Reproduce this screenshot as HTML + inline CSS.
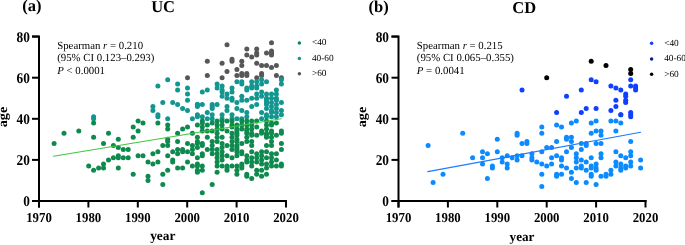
<!DOCTYPE html>
<html><head><meta charset="utf-8"><style>
html,body{margin:0;padding:0;background:#fff;width:685px;height:245px;overflow:hidden}
svg{display:block;will-change:transform}
text{font-family:"Liberation Serif",serif;text-rendering:geometricPrecision}
.tk{font-size:13.6px;font-weight:bold}
.ti{font-size:16.5px;font-weight:bold}
.an{font-size:10.8px}
.lg{font-size:9.3px;fill:#000}
</style></head><body>
<svg width="685" height="245" viewBox="0 0 685 245">
<text x="22.2" y="11" class="ti">(a)</text>
<text x="163.1" y="11.8" text-anchor="middle" class="ti">UC</text>
<text x="368.5" y="12" class="ti">(b)</text>
<text x="524.2" y="13" text-anchor="middle" class="ti">CD</text>
<path d="M32.0 36.6H39.0V207.5" fill="none" stroke="#000" stroke-width="2"/>
<path d="M32.0 36.6H39.0" stroke="#000" stroke-width="2"/>
<path d="M32.0 77.7H39.0" stroke="#000" stroke-width="2"/>
<path d="M32.0 118.8H39.0" stroke="#000" stroke-width="2"/>
<path d="M32.0 159.9H39.0" stroke="#000" stroke-width="2"/>
<path d="M32.0 201.0H39.0" stroke="#000" stroke-width="2"/>
<path d="M32.0 201.1H287.0" stroke="#000" stroke-width="2"/>
<path d="M39.0 200V207.5" stroke="#000" stroke-width="2"/>
<path d="M88.4 200V207.5" stroke="#000" stroke-width="2"/>
<path d="M137.8 200V207.5" stroke="#000" stroke-width="2"/>
<path d="M187.2 200V207.5" stroke="#000" stroke-width="2"/>
<path d="M236.6 200V207.5" stroke="#000" stroke-width="2"/>
<path d="M286.0 200V207.5" stroke="#000" stroke-width="2"/>
<path d="M391.5 36.6H398.5V207.5" fill="none" stroke="#000" stroke-width="2"/>
<path d="M391.5 36.6H398.5" stroke="#000" stroke-width="2"/>
<path d="M391.5 77.7H398.5" stroke="#000" stroke-width="2"/>
<path d="M391.5 118.8H398.5" stroke="#000" stroke-width="2"/>
<path d="M391.5 159.9H398.5" stroke="#000" stroke-width="2"/>
<path d="M391.5 201.0H398.5" stroke="#000" stroke-width="2"/>
<path d="M391.5 201.1H646.5" stroke="#000" stroke-width="2"/>
<path d="M398.5 200V207.5" stroke="#000" stroke-width="2"/>
<path d="M447.9 200V207.5" stroke="#000" stroke-width="2"/>
<path d="M497.3 200V207.5" stroke="#000" stroke-width="2"/>
<path d="M546.7 200V207.5" stroke="#000" stroke-width="2"/>
<path d="M596.1 200V207.5" stroke="#000" stroke-width="2"/>
<path d="M645.5 200V207.5" stroke="#000" stroke-width="2"/>
<text transform="translate(29.8,41.5) scale(0.9,1)" text-anchor="end" class="tk" style="font-size:14.8px">80</text>
<text transform="translate(29.8,82.6) scale(0.9,1)" text-anchor="end" class="tk" style="font-size:14.8px">60</text>
<text transform="translate(29.8,123.7) scale(0.9,1)" text-anchor="end" class="tk" style="font-size:14.8px">40</text>
<text transform="translate(29.8,164.8) scale(0.9,1)" text-anchor="end" class="tk" style="font-size:14.8px">20</text>
<text transform="translate(29.8,205.9) scale(0.9,1)" text-anchor="end" class="tk" style="font-size:14.8px">0</text>
<text transform="translate(389,41.5) scale(0.9,1)" text-anchor="end" class="tk" style="font-size:14.8px">80</text>
<text transform="translate(389,82.6) scale(0.9,1)" text-anchor="end" class="tk" style="font-size:14.8px">60</text>
<text transform="translate(389,123.7) scale(0.9,1)" text-anchor="end" class="tk" style="font-size:14.8px">40</text>
<text transform="translate(389,164.8) scale(0.9,1)" text-anchor="end" class="tk" style="font-size:14.8px">20</text>
<text transform="translate(389,205.9) scale(0.9,1)" text-anchor="end" class="tk" style="font-size:14.8px">0</text>
<text transform="translate(39.0,222.2) scale(0.94,1)" text-anchor="middle" class="tk">1970</text>
<text transform="translate(88.4,222.2) scale(0.94,1)" text-anchor="middle" class="tk">1980</text>
<text transform="translate(137.8,222.2) scale(0.94,1)" text-anchor="middle" class="tk">1990</text>
<text transform="translate(187.2,222.2) scale(0.94,1)" text-anchor="middle" class="tk">2000</text>
<text transform="translate(236.6,222.2) scale(0.94,1)" text-anchor="middle" class="tk">2010</text>
<text transform="translate(286.0,222.2) scale(0.94,1)" text-anchor="middle" class="tk">2020</text>
<text transform="translate(398.5,222.2) scale(0.94,1)" text-anchor="middle" class="tk">1970</text>
<text transform="translate(447.9,222.2) scale(0.94,1)" text-anchor="middle" class="tk">1980</text>
<text transform="translate(497.3,222.2) scale(0.94,1)" text-anchor="middle" class="tk">1990</text>
<text transform="translate(546.7,222.2) scale(0.94,1)" text-anchor="middle" class="tk">2000</text>
<text transform="translate(596.1,222.2) scale(0.94,1)" text-anchor="middle" class="tk">2010</text>
<text transform="translate(645.5,222.2) scale(0.94,1)" text-anchor="middle" class="tk">2020</text>
<text x="162.8" y="240" text-anchor="middle" class="ti" style="font-size:13.4px">year</text>
<text x="522" y="241.2" text-anchor="middle" class="ti" style="font-size:13.2px">year</text>
<text transform="translate(6.7,117) rotate(-90) scale(1.07,1)" text-anchor="middle" class="ti" style="font-size:13.2px">age</text>
<text transform="translate(366,117) rotate(-90) scale(1.07,1)" text-anchor="middle" class="ti" style="font-size:13.2px">age</text>
<g class="an">
<text x="57.2" y="48.8">Spearman <tspan font-style="italic">r</tspan> = 0.210</text>
<text x="57.2" y="61.3">(95% CI 0.123–0.293)</text>
<text x="57.2" y="73.8"><tspan font-style="italic">P</tspan> &lt; 0.0001</text>
<text x="416.8" y="48.8">Spearman <tspan font-style="italic">r</tspan> = 0.215</text>
<text x="416.8" y="61.3">(95% CI 0.065–0.355)</text>
<text x="416.8" y="73.8"><tspan font-style="italic">P</tspan> = 0.0041</text>
</g>
<circle cx="299.4" cy="42.9" r="1.75" fill="#0f8a4e"/>
<circle cx="299.4" cy="58.4" r="1.75" fill="#12968f"/>
<circle cx="299.4" cy="73.7" r="1.75" fill="#575757"/>
<text x="311.9" y="45.3" class="lg">&lt;40</text>
<text x="311.9" y="60.8" class="lg">40-60</text>
<text x="311.9" y="76.1" class="lg">&gt;60</text>
<circle cx="651.6" cy="43.2" r="1.75" fill="#1a3cff"/>
<circle cx="651.6" cy="58.9" r="1.75" fill="#101c90"/>
<circle cx="651.6" cy="74.2" r="1.75" fill="#000"/>
<text x="664.2" y="45.6" class="lg">&lt;40</text>
<text x="664.2" y="61.3" class="lg">40-60</text>
<text x="664.2" y="76.6" class="lg">&gt;60</text>
<g>
<circle cx="93.6" cy="116.7" r="2.5" fill="#12968f"/>
<circle cx="93.6" cy="118.8" r="2.5" fill="#12968f"/>
<circle cx="93.6" cy="122.9" r="2.5" fill="#0f8a4e"/>
<circle cx="93.6" cy="137.3" r="2.5" fill="#0f8a4e"/>
<circle cx="64.0" cy="133.2" r="2.5" fill="#0f8a4e"/>
<circle cx="78.8" cy="131.1" r="2.5" fill="#0f8a4e"/>
<circle cx="108.5" cy="133.2" r="2.5" fill="#0f8a4e"/>
<circle cx="54.1" cy="143.5" r="2.5" fill="#0f8a4e"/>
<circle cx="103.5" cy="143.5" r="2.5" fill="#0f8a4e"/>
<circle cx="118.3" cy="139.3" r="2.5" fill="#0f8a4e"/>
<circle cx="118.3" cy="147.6" r="2.5" fill="#0f8a4e"/>
<circle cx="113.4" cy="145.5" r="2.5" fill="#0f8a4e"/>
<circle cx="88.7" cy="166.1" r="2.5" fill="#0f8a4e"/>
<circle cx="93.6" cy="170.2" r="2.5" fill="#0f8a4e"/>
<circle cx="98.6" cy="168.1" r="2.5" fill="#0f8a4e"/>
<circle cx="103.5" cy="164.0" r="2.5" fill="#0f8a4e"/>
<circle cx="103.5" cy="168.1" r="2.5" fill="#0f8a4e"/>
<circle cx="108.5" cy="159.9" r="2.5" fill="#0f8a4e"/>
<circle cx="113.4" cy="157.8" r="2.5" fill="#0f8a4e"/>
<circle cx="118.3" cy="155.8" r="2.5" fill="#0f8a4e"/>
<circle cx="118.3" cy="168.1" r="2.5" fill="#0f8a4e"/>
<circle cx="133.2" cy="174.3" r="2.5" fill="#0f8a4e"/>
<circle cx="162.8" cy="102.4" r="2.5" fill="#12968f"/>
<circle cx="172.7" cy="102.4" r="2.5" fill="#12968f"/>
<circle cx="177.6" cy="104.4" r="2.5" fill="#12968f"/>
<circle cx="182.6" cy="108.5" r="2.5" fill="#12968f"/>
<circle cx="187.5" cy="110.6" r="2.5" fill="#12968f"/>
<circle cx="187.5" cy="100.3" r="2.5" fill="#12968f"/>
<circle cx="152.9" cy="106.5" r="2.5" fill="#12968f"/>
<circle cx="152.9" cy="110.6" r="2.5" fill="#12968f"/>
<circle cx="157.9" cy="114.7" r="2.5" fill="#12968f"/>
<circle cx="157.9" cy="116.7" r="2.5" fill="#12968f"/>
<circle cx="167.7" cy="118.8" r="2.5" fill="#12968f"/>
<circle cx="138.1" cy="120.9" r="2.5" fill="#0f8a4e"/>
<circle cx="143.0" cy="122.9" r="2.5" fill="#0f8a4e"/>
<circle cx="157.9" cy="122.9" r="2.5" fill="#0f8a4e"/>
<circle cx="133.2" cy="127.0" r="2.5" fill="#0f8a4e"/>
<circle cx="138.1" cy="131.1" r="2.5" fill="#0f8a4e"/>
<circle cx="167.7" cy="125.0" r="2.5" fill="#0f8a4e"/>
<circle cx="167.7" cy="129.1" r="2.5" fill="#0f8a4e"/>
<circle cx="133.2" cy="137.3" r="2.5" fill="#0f8a4e"/>
<circle cx="177.6" cy="133.2" r="2.5" fill="#0f8a4e"/>
<circle cx="182.6" cy="129.1" r="2.5" fill="#0f8a4e"/>
<circle cx="187.5" cy="127.0" r="2.5" fill="#0f8a4e"/>
<circle cx="167.7" cy="139.3" r="2.5" fill="#0f8a4e"/>
<circle cx="123.3" cy="149.6" r="2.5" fill="#0f8a4e"/>
<circle cx="128.2" cy="149.6" r="2.5" fill="#0f8a4e"/>
<circle cx="118.3" cy="157.8" r="2.5" fill="#0f8a4e"/>
<circle cx="123.3" cy="157.8" r="2.5" fill="#0f8a4e"/>
<circle cx="128.2" cy="157.8" r="2.5" fill="#0f8a4e"/>
<circle cx="138.1" cy="155.8" r="2.5" fill="#0f8a4e"/>
<circle cx="143.0" cy="155.8" r="2.5" fill="#0f8a4e"/>
<circle cx="148.0" cy="162.0" r="2.5" fill="#0f8a4e"/>
<circle cx="152.9" cy="153.7" r="2.5" fill="#0f8a4e"/>
<circle cx="157.9" cy="151.7" r="2.5" fill="#0f8a4e"/>
<circle cx="152.9" cy="164.0" r="2.5" fill="#0f8a4e"/>
<circle cx="157.9" cy="162.0" r="2.5" fill="#0f8a4e"/>
<circle cx="162.8" cy="145.5" r="2.5" fill="#0f8a4e"/>
<circle cx="167.7" cy="141.4" r="2.5" fill="#0f8a4e"/>
<circle cx="167.7" cy="145.5" r="2.5" fill="#0f8a4e"/>
<circle cx="167.7" cy="155.8" r="2.5" fill="#0f8a4e"/>
<circle cx="172.7" cy="151.7" r="2.5" fill="#0f8a4e"/>
<circle cx="172.7" cy="159.9" r="2.5" fill="#0f8a4e"/>
<circle cx="172.7" cy="162.0" r="2.5" fill="#0f8a4e"/>
<circle cx="177.6" cy="141.4" r="2.5" fill="#0f8a4e"/>
<circle cx="177.6" cy="149.6" r="2.5" fill="#0f8a4e"/>
<circle cx="177.6" cy="153.7" r="2.5" fill="#0f8a4e"/>
<circle cx="182.6" cy="149.6" r="2.5" fill="#0f8a4e"/>
<circle cx="182.6" cy="151.7" r="2.5" fill="#0f8a4e"/>
<circle cx="187.5" cy="143.5" r="2.5" fill="#0f8a4e"/>
<circle cx="187.5" cy="151.7" r="2.5" fill="#0f8a4e"/>
<circle cx="187.5" cy="162.0" r="2.5" fill="#0f8a4e"/>
<circle cx="148.0" cy="176.3" r="2.5" fill="#0f8a4e"/>
<circle cx="162.8" cy="174.3" r="2.5" fill="#0f8a4e"/>
<circle cx="167.7" cy="170.2" r="2.5" fill="#0f8a4e"/>
<circle cx="177.6" cy="168.1" r="2.5" fill="#0f8a4e"/>
<circle cx="182.6" cy="168.1" r="2.5" fill="#0f8a4e"/>
<circle cx="148.0" cy="180.4" r="2.5" fill="#0f8a4e"/>
<circle cx="162.8" cy="184.6" r="2.5" fill="#0f8a4e"/>
<circle cx="207.3" cy="61.3" r="2.5" fill="#575757"/>
<circle cx="222.1" cy="63.3" r="2.5" fill="#575757"/>
<circle cx="227.0" cy="71.5" r="2.5" fill="#575757"/>
<circle cx="187.5" cy="77.7" r="2.5" fill="#575757"/>
<circle cx="207.3" cy="75.6" r="2.5" fill="#575757"/>
<circle cx="222.1" cy="77.7" r="2.5" fill="#575757"/>
<circle cx="157.9" cy="85.9" r="2.5" fill="#12968f"/>
<circle cx="167.7" cy="79.8" r="2.5" fill="#12968f"/>
<circle cx="177.6" cy="83.9" r="2.5" fill="#12968f"/>
<circle cx="177.6" cy="90.0" r="2.5" fill="#12968f"/>
<circle cx="187.5" cy="88.0" r="2.5" fill="#12968f"/>
<circle cx="187.5" cy="94.1" r="2.5" fill="#12968f"/>
<circle cx="202.3" cy="92.1" r="2.5" fill="#12968f"/>
<circle cx="207.3" cy="90.0" r="2.5" fill="#12968f"/>
<circle cx="217.1" cy="83.9" r="2.5" fill="#12968f"/>
<circle cx="217.1" cy="88.0" r="2.5" fill="#12968f"/>
<circle cx="222.1" cy="85.9" r="2.5" fill="#12968f"/>
<circle cx="222.1" cy="90.0" r="2.5" fill="#12968f"/>
<circle cx="222.1" cy="92.1" r="2.5" fill="#12968f"/>
<circle cx="222.1" cy="96.2" r="2.5" fill="#12968f"/>
<circle cx="227.0" cy="94.1" r="2.5" fill="#12968f"/>
<circle cx="227.0" cy="44.8" r="2.5" fill="#575757"/>
<circle cx="246.8" cy="48.9" r="2.5" fill="#575757"/>
<circle cx="256.7" cy="48.9" r="2.5" fill="#575757"/>
<circle cx="256.7" cy="53.0" r="2.5" fill="#575757"/>
<circle cx="256.7" cy="55.1" r="2.5" fill="#575757"/>
<circle cx="246.8" cy="55.1" r="2.5" fill="#575757"/>
<circle cx="251.7" cy="57.1" r="2.5" fill="#575757"/>
<circle cx="232.0" cy="59.2" r="2.5" fill="#575757"/>
<circle cx="232.0" cy="61.3" r="2.5" fill="#575757"/>
<circle cx="241.8" cy="61.3" r="2.5" fill="#575757"/>
<circle cx="241.8" cy="65.4" r="2.5" fill="#575757"/>
<circle cx="256.7" cy="63.3" r="2.5" fill="#575757"/>
<circle cx="236.9" cy="69.5" r="2.5" fill="#575757"/>
<circle cx="236.9" cy="75.6" r="2.5" fill="#575757"/>
<circle cx="241.8" cy="73.6" r="2.5" fill="#575757"/>
<circle cx="246.8" cy="73.6" r="2.5" fill="#575757"/>
<circle cx="246.8" cy="75.6" r="2.5" fill="#575757"/>
<circle cx="271.5" cy="42.8" r="2.5" fill="#575757"/>
<circle cx="266.5" cy="53.0" r="2.5" fill="#575757"/>
<circle cx="271.5" cy="51.0" r="2.5" fill="#575757"/>
<circle cx="271.5" cy="53.0" r="2.5" fill="#575757"/>
<circle cx="271.5" cy="55.1" r="2.5" fill="#575757"/>
<circle cx="261.6" cy="65.4" r="2.5" fill="#575757"/>
<circle cx="266.5" cy="65.4" r="2.5" fill="#575757"/>
<circle cx="271.5" cy="67.4" r="2.5" fill="#575757"/>
<circle cx="276.4" cy="65.4" r="2.5" fill="#575757"/>
<circle cx="261.6" cy="73.6" r="2.5" fill="#575757"/>
<circle cx="276.4" cy="75.6" r="2.5" fill="#575757"/>
<circle cx="227.0" cy="98.2" r="2.5" fill="#12968f"/>
<circle cx="232.0" cy="88.0" r="2.5" fill="#12968f"/>
<circle cx="232.0" cy="92.1" r="2.5" fill="#12968f"/>
<circle cx="232.0" cy="98.2" r="2.5" fill="#12968f"/>
<circle cx="232.0" cy="100.3" r="2.5" fill="#12968f"/>
<circle cx="236.9" cy="81.8" r="2.5" fill="#12968f"/>
<circle cx="236.9" cy="102.4" r="2.5" fill="#12968f"/>
<circle cx="197.4" cy="104.4" r="2.5" fill="#12968f"/>
<circle cx="202.3" cy="104.4" r="2.5" fill="#12968f"/>
<circle cx="212.2" cy="104.4" r="2.5" fill="#12968f"/>
<circle cx="217.1" cy="104.4" r="2.5" fill="#12968f"/>
<circle cx="241.8" cy="75.6" r="2.5" fill="#575757"/>
<circle cx="256.7" cy="77.7" r="2.5" fill="#575757"/>
<circle cx="261.6" cy="75.6" r="2.5" fill="#575757"/>
<circle cx="281.4" cy="77.7" r="2.5" fill="#575757"/>
<circle cx="241.8" cy="81.8" r="2.5" fill="#12968f"/>
<circle cx="241.8" cy="83.9" r="2.5" fill="#12968f"/>
<circle cx="246.8" cy="88.0" r="2.5" fill="#12968f"/>
<circle cx="246.8" cy="90.0" r="2.5" fill="#12968f"/>
<circle cx="251.7" cy="81.8" r="2.5" fill="#12968f"/>
<circle cx="251.7" cy="85.9" r="2.5" fill="#12968f"/>
<circle cx="251.7" cy="88.0" r="2.5" fill="#12968f"/>
<circle cx="256.7" cy="81.8" r="2.5" fill="#12968f"/>
<circle cx="256.7" cy="85.9" r="2.5" fill="#12968f"/>
<circle cx="256.7" cy="88.0" r="2.5" fill="#12968f"/>
<circle cx="261.6" cy="79.8" r="2.5" fill="#12968f"/>
<circle cx="261.6" cy="83.9" r="2.5" fill="#12968f"/>
<circle cx="266.5" cy="81.8" r="2.5" fill="#12968f"/>
<circle cx="281.4" cy="79.8" r="2.5" fill="#12968f"/>
<circle cx="281.4" cy="83.9" r="2.5" fill="#12968f"/>
<circle cx="241.8" cy="96.2" r="2.5" fill="#12968f"/>
<circle cx="241.8" cy="100.3" r="2.5" fill="#12968f"/>
<circle cx="246.8" cy="100.3" r="2.5" fill="#12968f"/>
<circle cx="251.7" cy="98.2" r="2.5" fill="#12968f"/>
<circle cx="256.7" cy="94.1" r="2.5" fill="#12968f"/>
<circle cx="256.7" cy="98.2" r="2.5" fill="#12968f"/>
<circle cx="261.6" cy="92.1" r="2.5" fill="#12968f"/>
<circle cx="261.6" cy="96.2" r="2.5" fill="#12968f"/>
<circle cx="266.5" cy="94.1" r="2.5" fill="#12968f"/>
<circle cx="266.5" cy="98.2" r="2.5" fill="#12968f"/>
<circle cx="266.5" cy="100.3" r="2.5" fill="#12968f"/>
<circle cx="266.5" cy="102.4" r="2.5" fill="#12968f"/>
<circle cx="271.5" cy="94.1" r="2.5" fill="#12968f"/>
<circle cx="271.5" cy="98.2" r="2.5" fill="#12968f"/>
<circle cx="271.5" cy="102.4" r="2.5" fill="#12968f"/>
<circle cx="276.4" cy="90.0" r="2.5" fill="#12968f"/>
<circle cx="276.4" cy="94.1" r="2.5" fill="#12968f"/>
<circle cx="276.4" cy="98.2" r="2.5" fill="#12968f"/>
<circle cx="281.4" cy="102.4" r="2.5" fill="#12968f"/>
<circle cx="197.4" cy="104.4" r="2.5" fill="#12968f"/>
<circle cx="197.4" cy="106.5" r="2.5" fill="#12968f"/>
<circle cx="207.3" cy="112.6" r="2.5" fill="#12968f"/>
<circle cx="212.2" cy="106.5" r="2.5" fill="#12968f"/>
<circle cx="212.2" cy="108.5" r="2.5" fill="#12968f"/>
<circle cx="227.0" cy="106.5" r="2.5" fill="#12968f"/>
<circle cx="227.0" cy="110.6" r="2.5" fill="#12968f"/>
<circle cx="236.9" cy="108.5" r="2.5" fill="#12968f"/>
<circle cx="197.4" cy="114.7" r="2.5" fill="#12968f"/>
<circle cx="197.4" cy="116.7" r="2.5" fill="#12968f"/>
<circle cx="192.4" cy="118.8" r="2.5" fill="#12968f"/>
<circle cx="202.3" cy="116.7" r="2.5" fill="#12968f"/>
<circle cx="207.3" cy="118.8" r="2.5" fill="#12968f"/>
<circle cx="212.2" cy="114.7" r="2.5" fill="#12968f"/>
<circle cx="212.2" cy="118.8" r="2.5" fill="#12968f"/>
<circle cx="222.1" cy="114.7" r="2.5" fill="#12968f"/>
<circle cx="222.1" cy="118.8" r="2.5" fill="#12968f"/>
<circle cx="232.0" cy="114.7" r="2.5" fill="#12968f"/>
<circle cx="232.0" cy="118.8" r="2.5" fill="#12968f"/>
<circle cx="236.9" cy="118.8" r="2.5" fill="#12968f"/>
<circle cx="202.3" cy="120.9" r="2.5" fill="#0f8a4e"/>
<circle cx="202.3" cy="122.9" r="2.5" fill="#0f8a4e"/>
<circle cx="197.4" cy="125.0" r="2.5" fill="#0f8a4e"/>
<circle cx="202.3" cy="127.0" r="2.5" fill="#0f8a4e"/>
<circle cx="202.3" cy="131.1" r="2.5" fill="#0f8a4e"/>
<circle cx="207.3" cy="125.0" r="2.5" fill="#0f8a4e"/>
<circle cx="207.3" cy="131.1" r="2.5" fill="#0f8a4e"/>
<circle cx="212.2" cy="122.9" r="2.5" fill="#0f8a4e"/>
<circle cx="212.2" cy="131.1" r="2.5" fill="#0f8a4e"/>
<circle cx="217.1" cy="120.9" r="2.5" fill="#0f8a4e"/>
<circle cx="217.1" cy="125.0" r="2.5" fill="#0f8a4e"/>
<circle cx="217.1" cy="129.1" r="2.5" fill="#0f8a4e"/>
<circle cx="222.1" cy="120.9" r="2.5" fill="#0f8a4e"/>
<circle cx="222.1" cy="125.0" r="2.5" fill="#0f8a4e"/>
<circle cx="222.1" cy="129.1" r="2.5" fill="#0f8a4e"/>
<circle cx="227.0" cy="120.9" r="2.5" fill="#0f8a4e"/>
<circle cx="227.0" cy="131.1" r="2.5" fill="#0f8a4e"/>
<circle cx="232.0" cy="120.9" r="2.5" fill="#0f8a4e"/>
<circle cx="232.0" cy="125.0" r="2.5" fill="#0f8a4e"/>
<circle cx="232.0" cy="127.0" r="2.5" fill="#0f8a4e"/>
<circle cx="236.9" cy="125.0" r="2.5" fill="#0f8a4e"/>
<circle cx="236.9" cy="129.1" r="2.5" fill="#0f8a4e"/>
<circle cx="192.4" cy="133.2" r="2.5" fill="#0f8a4e"/>
<circle cx="232.0" cy="133.2" r="2.5" fill="#0f8a4e"/>
<circle cx="236.9" cy="133.2" r="2.5" fill="#0f8a4e"/>
<circle cx="241.8" cy="110.6" r="2.5" fill="#12968f"/>
<circle cx="246.8" cy="112.6" r="2.5" fill="#12968f"/>
<circle cx="246.8" cy="116.7" r="2.5" fill="#12968f"/>
<circle cx="251.7" cy="106.5" r="2.5" fill="#12968f"/>
<circle cx="256.7" cy="104.4" r="2.5" fill="#12968f"/>
<circle cx="261.6" cy="112.6" r="2.5" fill="#12968f"/>
<circle cx="266.5" cy="104.4" r="2.5" fill="#12968f"/>
<circle cx="266.5" cy="108.5" r="2.5" fill="#12968f"/>
<circle cx="266.5" cy="114.7" r="2.5" fill="#12968f"/>
<circle cx="266.5" cy="116.7" r="2.5" fill="#12968f"/>
<circle cx="271.5" cy="106.5" r="2.5" fill="#12968f"/>
<circle cx="271.5" cy="110.6" r="2.5" fill="#12968f"/>
<circle cx="271.5" cy="112.6" r="2.5" fill="#12968f"/>
<circle cx="271.5" cy="116.7" r="2.5" fill="#12968f"/>
<circle cx="276.4" cy="100.3" r="2.5" fill="#12968f"/>
<circle cx="276.4" cy="104.4" r="2.5" fill="#12968f"/>
<circle cx="276.4" cy="108.5" r="2.5" fill="#12968f"/>
<circle cx="276.4" cy="112.6" r="2.5" fill="#12968f"/>
<circle cx="276.4" cy="116.7" r="2.5" fill="#12968f"/>
<circle cx="281.4" cy="110.6" r="2.5" fill="#12968f"/>
<circle cx="281.4" cy="114.7" r="2.5" fill="#12968f"/>
<circle cx="241.8" cy="118.8" r="2.5" fill="#12968f"/>
<circle cx="261.6" cy="118.8" r="2.5" fill="#12968f"/>
<circle cx="241.8" cy="120.9" r="2.5" fill="#0f8a4e"/>
<circle cx="241.8" cy="125.0" r="2.5" fill="#0f8a4e"/>
<circle cx="241.8" cy="129.1" r="2.5" fill="#0f8a4e"/>
<circle cx="246.8" cy="120.9" r="2.5" fill="#0f8a4e"/>
<circle cx="246.8" cy="125.0" r="2.5" fill="#0f8a4e"/>
<circle cx="246.8" cy="129.1" r="2.5" fill="#0f8a4e"/>
<circle cx="251.7" cy="120.9" r="2.5" fill="#0f8a4e"/>
<circle cx="251.7" cy="125.0" r="2.5" fill="#0f8a4e"/>
<circle cx="251.7" cy="129.1" r="2.5" fill="#0f8a4e"/>
<circle cx="256.7" cy="120.9" r="2.5" fill="#0f8a4e"/>
<circle cx="256.7" cy="127.0" r="2.5" fill="#0f8a4e"/>
<circle cx="266.5" cy="120.9" r="2.5" fill="#0f8a4e"/>
<circle cx="266.5" cy="125.0" r="2.5" fill="#0f8a4e"/>
<circle cx="266.5" cy="129.1" r="2.5" fill="#0f8a4e"/>
<circle cx="266.5" cy="133.2" r="2.5" fill="#0f8a4e"/>
<circle cx="271.5" cy="122.9" r="2.5" fill="#0f8a4e"/>
<circle cx="271.5" cy="125.0" r="2.5" fill="#0f8a4e"/>
<circle cx="276.4" cy="122.9" r="2.5" fill="#0f8a4e"/>
<circle cx="236.9" cy="131.1" r="2.5" fill="#0f8a4e"/>
<circle cx="246.8" cy="131.1" r="2.5" fill="#0f8a4e"/>
<circle cx="261.6" cy="131.1" r="2.5" fill="#0f8a4e"/>
<circle cx="271.5" cy="131.1" r="2.5" fill="#0f8a4e"/>
<circle cx="281.4" cy="133.2" r="2.5" fill="#0f8a4e"/>
<circle cx="207.3" cy="137.3" r="2.5" fill="#0f8a4e"/>
<circle cx="197.4" cy="137.3" r="2.5" fill="#0f8a4e"/>
<circle cx="197.4" cy="141.4" r="2.5" fill="#0f8a4e"/>
<circle cx="197.4" cy="143.5" r="2.5" fill="#0f8a4e"/>
<circle cx="202.3" cy="143.5" r="2.5" fill="#0f8a4e"/>
<circle cx="202.3" cy="145.5" r="2.5" fill="#0f8a4e"/>
<circle cx="192.4" cy="145.5" r="2.5" fill="#0f8a4e"/>
<circle cx="192.4" cy="149.6" r="2.5" fill="#0f8a4e"/>
<circle cx="192.4" cy="153.7" r="2.5" fill="#0f8a4e"/>
<circle cx="197.4" cy="147.6" r="2.5" fill="#0f8a4e"/>
<circle cx="202.3" cy="153.7" r="2.5" fill="#0f8a4e"/>
<circle cx="202.3" cy="155.8" r="2.5" fill="#0f8a4e"/>
<circle cx="197.4" cy="157.8" r="2.5" fill="#0f8a4e"/>
<circle cx="207.3" cy="149.6" r="2.5" fill="#0f8a4e"/>
<circle cx="212.2" cy="141.4" r="2.5" fill="#0f8a4e"/>
<circle cx="212.2" cy="145.5" r="2.5" fill="#0f8a4e"/>
<circle cx="212.2" cy="149.6" r="2.5" fill="#0f8a4e"/>
<circle cx="212.2" cy="153.7" r="2.5" fill="#0f8a4e"/>
<circle cx="217.1" cy="133.2" r="2.5" fill="#0f8a4e"/>
<circle cx="217.1" cy="137.3" r="2.5" fill="#0f8a4e"/>
<circle cx="217.1" cy="141.4" r="2.5" fill="#0f8a4e"/>
<circle cx="217.1" cy="149.6" r="2.5" fill="#0f8a4e"/>
<circle cx="217.1" cy="153.7" r="2.5" fill="#0f8a4e"/>
<circle cx="217.1" cy="157.8" r="2.5" fill="#0f8a4e"/>
<circle cx="217.1" cy="162.0" r="2.5" fill="#0f8a4e"/>
<circle cx="217.1" cy="166.1" r="2.5" fill="#0f8a4e"/>
<circle cx="222.1" cy="137.3" r="2.5" fill="#0f8a4e"/>
<circle cx="222.1" cy="143.5" r="2.5" fill="#0f8a4e"/>
<circle cx="222.1" cy="147.6" r="2.5" fill="#0f8a4e"/>
<circle cx="222.1" cy="151.7" r="2.5" fill="#0f8a4e"/>
<circle cx="222.1" cy="155.8" r="2.5" fill="#0f8a4e"/>
<circle cx="222.1" cy="159.9" r="2.5" fill="#0f8a4e"/>
<circle cx="227.0" cy="145.5" r="2.5" fill="#0f8a4e"/>
<circle cx="227.0" cy="155.8" r="2.5" fill="#0f8a4e"/>
<circle cx="227.0" cy="166.1" r="2.5" fill="#0f8a4e"/>
<circle cx="232.0" cy="137.3" r="2.5" fill="#0f8a4e"/>
<circle cx="232.0" cy="141.4" r="2.5" fill="#0f8a4e"/>
<circle cx="232.0" cy="145.5" r="2.5" fill="#0f8a4e"/>
<circle cx="232.0" cy="149.6" r="2.5" fill="#0f8a4e"/>
<circle cx="232.0" cy="157.8" r="2.5" fill="#0f8a4e"/>
<circle cx="232.0" cy="166.1" r="2.5" fill="#0f8a4e"/>
<circle cx="236.9" cy="141.4" r="2.5" fill="#0f8a4e"/>
<circle cx="236.9" cy="145.5" r="2.5" fill="#0f8a4e"/>
<circle cx="236.9" cy="149.6" r="2.5" fill="#0f8a4e"/>
<circle cx="236.9" cy="155.8" r="2.5" fill="#0f8a4e"/>
<circle cx="197.4" cy="164.0" r="2.5" fill="#0f8a4e"/>
<circle cx="197.4" cy="166.1" r="2.5" fill="#0f8a4e"/>
<circle cx="192.4" cy="166.1" r="2.5" fill="#0f8a4e"/>
<circle cx="202.3" cy="166.1" r="2.5" fill="#0f8a4e"/>
<circle cx="236.9" cy="135.2" r="2.5" fill="#0f8a4e"/>
<circle cx="236.9" cy="139.3" r="2.5" fill="#0f8a4e"/>
<circle cx="236.9" cy="147.6" r="2.5" fill="#0f8a4e"/>
<circle cx="236.9" cy="151.7" r="2.5" fill="#0f8a4e"/>
<circle cx="241.8" cy="143.5" r="2.5" fill="#0f8a4e"/>
<circle cx="241.8" cy="151.7" r="2.5" fill="#0f8a4e"/>
<circle cx="241.8" cy="153.7" r="2.5" fill="#0f8a4e"/>
<circle cx="241.8" cy="164.0" r="2.5" fill="#0f8a4e"/>
<circle cx="246.8" cy="133.2" r="2.5" fill="#0f8a4e"/>
<circle cx="246.8" cy="137.3" r="2.5" fill="#0f8a4e"/>
<circle cx="246.8" cy="141.4" r="2.5" fill="#0f8a4e"/>
<circle cx="246.8" cy="155.8" r="2.5" fill="#0f8a4e"/>
<circle cx="246.8" cy="159.9" r="2.5" fill="#0f8a4e"/>
<circle cx="246.8" cy="162.0" r="2.5" fill="#0f8a4e"/>
<circle cx="251.7" cy="133.2" r="2.5" fill="#0f8a4e"/>
<circle cx="251.7" cy="135.2" r="2.5" fill="#0f8a4e"/>
<circle cx="251.7" cy="141.4" r="2.5" fill="#0f8a4e"/>
<circle cx="251.7" cy="145.5" r="2.5" fill="#0f8a4e"/>
<circle cx="251.7" cy="151.7" r="2.5" fill="#0f8a4e"/>
<circle cx="251.7" cy="157.8" r="2.5" fill="#0f8a4e"/>
<circle cx="251.7" cy="162.0" r="2.5" fill="#0f8a4e"/>
<circle cx="251.7" cy="166.1" r="2.5" fill="#0f8a4e"/>
<circle cx="256.7" cy="135.2" r="2.5" fill="#0f8a4e"/>
<circle cx="256.7" cy="153.7" r="2.5" fill="#0f8a4e"/>
<circle cx="256.7" cy="157.8" r="2.5" fill="#0f8a4e"/>
<circle cx="256.7" cy="162.0" r="2.5" fill="#0f8a4e"/>
<circle cx="261.6" cy="133.2" r="2.5" fill="#0f8a4e"/>
<circle cx="261.6" cy="151.7" r="2.5" fill="#0f8a4e"/>
<circle cx="261.6" cy="155.8" r="2.5" fill="#0f8a4e"/>
<circle cx="261.6" cy="159.9" r="2.5" fill="#0f8a4e"/>
<circle cx="261.6" cy="164.0" r="2.5" fill="#0f8a4e"/>
<circle cx="266.5" cy="135.2" r="2.5" fill="#0f8a4e"/>
<circle cx="266.5" cy="137.3" r="2.5" fill="#0f8a4e"/>
<circle cx="266.5" cy="145.5" r="2.5" fill="#0f8a4e"/>
<circle cx="266.5" cy="151.7" r="2.5" fill="#0f8a4e"/>
<circle cx="266.5" cy="157.8" r="2.5" fill="#0f8a4e"/>
<circle cx="266.5" cy="164.0" r="2.5" fill="#0f8a4e"/>
<circle cx="271.5" cy="133.2" r="2.5" fill="#0f8a4e"/>
<circle cx="271.5" cy="137.3" r="2.5" fill="#0f8a4e"/>
<circle cx="271.5" cy="141.4" r="2.5" fill="#0f8a4e"/>
<circle cx="271.5" cy="145.5" r="2.5" fill="#0f8a4e"/>
<circle cx="271.5" cy="153.7" r="2.5" fill="#0f8a4e"/>
<circle cx="271.5" cy="157.8" r="2.5" fill="#0f8a4e"/>
<circle cx="271.5" cy="162.0" r="2.5" fill="#0f8a4e"/>
<circle cx="276.4" cy="135.2" r="2.5" fill="#0f8a4e"/>
<circle cx="276.4" cy="153.7" r="2.5" fill="#0f8a4e"/>
<circle cx="276.4" cy="159.9" r="2.5" fill="#0f8a4e"/>
<circle cx="281.4" cy="131.1" r="2.5" fill="#0f8a4e"/>
<circle cx="281.4" cy="143.5" r="2.5" fill="#0f8a4e"/>
<circle cx="281.4" cy="149.6" r="2.5" fill="#0f8a4e"/>
<circle cx="281.4" cy="164.0" r="2.5" fill="#0f8a4e"/>
<circle cx="197.4" cy="170.2" r="2.5" fill="#0f8a4e"/>
<circle cx="197.4" cy="172.2" r="2.5" fill="#0f8a4e"/>
<circle cx="202.3" cy="170.2" r="2.5" fill="#0f8a4e"/>
<circle cx="217.1" cy="172.2" r="2.5" fill="#0f8a4e"/>
<circle cx="222.1" cy="166.1" r="2.5" fill="#0f8a4e"/>
<circle cx="227.0" cy="168.1" r="2.5" fill="#0f8a4e"/>
<circle cx="227.0" cy="170.2" r="2.5" fill="#0f8a4e"/>
<circle cx="236.9" cy="166.1" r="2.5" fill="#0f8a4e"/>
<circle cx="236.9" cy="170.2" r="2.5" fill="#0f8a4e"/>
<circle cx="236.9" cy="174.3" r="2.5" fill="#0f8a4e"/>
<circle cx="212.2" cy="184.6" r="2.5" fill="#0f8a4e"/>
<circle cx="202.3" cy="192.8" r="2.5" fill="#0f8a4e"/>
<circle cx="241.8" cy="166.1" r="2.5" fill="#0f8a4e"/>
<circle cx="241.8" cy="168.1" r="2.5" fill="#0f8a4e"/>
<circle cx="246.8" cy="174.3" r="2.5" fill="#0f8a4e"/>
<circle cx="246.8" cy="176.3" r="2.5" fill="#0f8a4e"/>
<circle cx="251.7" cy="178.4" r="2.5" fill="#0f8a4e"/>
<circle cx="256.7" cy="170.2" r="2.5" fill="#0f8a4e"/>
<circle cx="256.7" cy="174.3" r="2.5" fill="#0f8a4e"/>
<circle cx="261.6" cy="170.2" r="2.5" fill="#0f8a4e"/>
<circle cx="261.6" cy="176.3" r="2.5" fill="#0f8a4e"/>
<circle cx="266.5" cy="174.3" r="2.5" fill="#0f8a4e"/>
<circle cx="266.5" cy="168.1" r="2.5" fill="#0f8a4e"/>
<circle cx="271.5" cy="166.1" r="2.5" fill="#0f8a4e"/>
<circle cx="276.4" cy="166.1" r="2.5" fill="#0f8a4e"/>
<circle cx="281.4" cy="166.1" r="2.5" fill="#0f8a4e"/>
</g>
<g>
<circle cx="546.7" cy="77.7" r="2.5" fill="#000000"/>
<circle cx="591.2" cy="61.3" r="2.5" fill="#000000"/>
<circle cx="606.0" cy="65.4" r="2.5" fill="#000000"/>
<circle cx="630.7" cy="69.5" r="2.5" fill="#000000"/>
<circle cx="630.7" cy="73.6" r="2.5" fill="#000000"/>
<circle cx="591.2" cy="79.8" r="2.5" fill="#0f40ff"/>
<circle cx="596.1" cy="81.8" r="2.5" fill="#0f40ff"/>
<circle cx="630.7" cy="79.8" r="2.5" fill="#0f40ff"/>
<circle cx="610.9" cy="85.9" r="2.5" fill="#0f40ff"/>
<circle cx="615.9" cy="88.0" r="2.5" fill="#0f40ff"/>
<circle cx="620.8" cy="90.0" r="2.5" fill="#0f40ff"/>
<circle cx="625.7" cy="94.1" r="2.5" fill="#0f40ff"/>
<circle cx="625.7" cy="96.2" r="2.5" fill="#0f40ff"/>
<circle cx="625.7" cy="100.3" r="2.5" fill="#0f40ff"/>
<circle cx="625.7" cy="102.4" r="2.5" fill="#0f40ff"/>
<circle cx="630.7" cy="85.9" r="2.5" fill="#0f40ff"/>
<circle cx="635.6" cy="85.9" r="2.5" fill="#0f40ff"/>
<circle cx="635.6" cy="88.0" r="2.5" fill="#0f40ff"/>
<circle cx="635.6" cy="90.0" r="2.5" fill="#0f40ff"/>
<circle cx="615.9" cy="100.3" r="2.5" fill="#0f40ff"/>
<circle cx="615.9" cy="106.5" r="2.5" fill="#0f40ff"/>
<circle cx="610.9" cy="110.6" r="2.5" fill="#0f40ff"/>
<circle cx="620.8" cy="114.7" r="2.5" fill="#0f40ff"/>
<circle cx="630.7" cy="112.6" r="2.5" fill="#0f40ff"/>
<circle cx="586.2" cy="108.5" r="2.5" fill="#0f40ff"/>
<circle cx="596.1" cy="108.5" r="2.5" fill="#0f40ff"/>
<circle cx="581.3" cy="90.0" r="2.5" fill="#0f40ff"/>
<circle cx="566.5" cy="96.2" r="2.5" fill="#0f40ff"/>
<circle cx="581.3" cy="112.6" r="2.5" fill="#0f40ff"/>
<circle cx="556.6" cy="112.6" r="2.5" fill="#0f40ff"/>
<circle cx="522.0" cy="90.0" r="2.5" fill="#0f40ff"/>
<circle cx="462.7" cy="133.2" r="2.5" fill="#0b8bff"/>
<circle cx="428.1" cy="145.5" r="2.5" fill="#0b8bff"/>
<circle cx="443.0" cy="174.3" r="2.5" fill="#0b8bff"/>
<circle cx="433.1" cy="182.5" r="2.5" fill="#0b8bff"/>
<circle cx="497.3" cy="139.3" r="2.5" fill="#0b8bff"/>
<circle cx="517.1" cy="133.2" r="2.5" fill="#0b8bff"/>
<circle cx="517.1" cy="135.2" r="2.5" fill="#0b8bff"/>
<circle cx="522.0" cy="143.5" r="2.5" fill="#0b8bff"/>
<circle cx="526.9" cy="141.4" r="2.5" fill="#0b8bff"/>
<circle cx="526.9" cy="143.5" r="2.5" fill="#0b8bff"/>
<circle cx="472.6" cy="157.8" r="2.5" fill="#0b8bff"/>
<circle cx="482.5" cy="151.7" r="2.5" fill="#0b8bff"/>
<circle cx="482.5" cy="157.8" r="2.5" fill="#0b8bff"/>
<circle cx="482.5" cy="164.0" r="2.5" fill="#0b8bff"/>
<circle cx="487.4" cy="153.7" r="2.5" fill="#0b8bff"/>
<circle cx="497.3" cy="151.7" r="2.5" fill="#0b8bff"/>
<circle cx="492.4" cy="166.1" r="2.5" fill="#0b8bff"/>
<circle cx="492.4" cy="168.1" r="2.5" fill="#0b8bff"/>
<circle cx="502.2" cy="157.8" r="2.5" fill="#0b8bff"/>
<circle cx="502.2" cy="162.0" r="2.5" fill="#0b8bff"/>
<circle cx="507.2" cy="155.8" r="2.5" fill="#0b8bff"/>
<circle cx="507.2" cy="164.0" r="2.5" fill="#0b8bff"/>
<circle cx="507.2" cy="168.1" r="2.5" fill="#0b8bff"/>
<circle cx="512.1" cy="157.8" r="2.5" fill="#0b8bff"/>
<circle cx="517.1" cy="155.8" r="2.5" fill="#0b8bff"/>
<circle cx="517.1" cy="159.9" r="2.5" fill="#0b8bff"/>
<circle cx="522.0" cy="155.8" r="2.5" fill="#0b8bff"/>
<circle cx="531.9" cy="153.7" r="2.5" fill="#0b8bff"/>
<circle cx="531.9" cy="157.8" r="2.5" fill="#0b8bff"/>
<circle cx="531.9" cy="159.9" r="2.5" fill="#0b8bff"/>
<circle cx="487.4" cy="178.4" r="2.5" fill="#0b8bff"/>
<circle cx="541.8" cy="127.0" r="2.5" fill="#0b8bff"/>
<circle cx="541.8" cy="133.2" r="2.5" fill="#0b8bff"/>
<circle cx="556.6" cy="125.0" r="2.5" fill="#0b8bff"/>
<circle cx="561.5" cy="127.0" r="2.5" fill="#0b8bff"/>
<circle cx="571.4" cy="122.9" r="2.5" fill="#0b8bff"/>
<circle cx="576.3" cy="120.9" r="2.5" fill="#0b8bff"/>
<circle cx="556.6" cy="141.4" r="2.5" fill="#0b8bff"/>
<circle cx="566.5" cy="137.3" r="2.5" fill="#0b8bff"/>
<circle cx="566.5" cy="139.3" r="2.5" fill="#0b8bff"/>
<circle cx="571.4" cy="137.3" r="2.5" fill="#0b8bff"/>
<circle cx="571.4" cy="141.4" r="2.5" fill="#0b8bff"/>
<circle cx="581.3" cy="143.5" r="2.5" fill="#0b8bff"/>
<circle cx="586.2" cy="143.5" r="2.5" fill="#0b8bff"/>
<circle cx="620.8" cy="114.7" r="2.5" fill="#0f40ff"/>
<circle cx="630.7" cy="114.7" r="2.5" fill="#0f40ff"/>
<circle cx="630.7" cy="116.7" r="2.5" fill="#0f40ff"/>
<circle cx="591.2" cy="122.9" r="2.5" fill="#0b8bff"/>
<circle cx="596.1" cy="120.9" r="2.5" fill="#0b8bff"/>
<circle cx="610.9" cy="120.9" r="2.5" fill="#0b8bff"/>
<circle cx="615.9" cy="120.9" r="2.5" fill="#0b8bff"/>
<circle cx="620.8" cy="122.9" r="2.5" fill="#0b8bff"/>
<circle cx="591.2" cy="133.2" r="2.5" fill="#0b8bff"/>
<circle cx="596.1" cy="131.1" r="2.5" fill="#0b8bff"/>
<circle cx="601.0" cy="131.1" r="2.5" fill="#0b8bff"/>
<circle cx="601.0" cy="135.2" r="2.5" fill="#0b8bff"/>
<circle cx="615.9" cy="131.1" r="2.5" fill="#0b8bff"/>
<circle cx="630.7" cy="141.4" r="2.5" fill="#0b8bff"/>
<circle cx="596.1" cy="143.5" r="2.5" fill="#0b8bff"/>
<circle cx="601.0" cy="143.5" r="2.5" fill="#0b8bff"/>
<circle cx="586.2" cy="145.5" r="2.5" fill="#0b8bff"/>
<circle cx="546.7" cy="147.6" r="2.5" fill="#0b8bff"/>
<circle cx="551.6" cy="147.6" r="2.5" fill="#0b8bff"/>
<circle cx="541.8" cy="151.7" r="2.5" fill="#0b8bff"/>
<circle cx="571.4" cy="147.6" r="2.5" fill="#0b8bff"/>
<circle cx="566.5" cy="151.7" r="2.5" fill="#0b8bff"/>
<circle cx="581.3" cy="149.6" r="2.5" fill="#0b8bff"/>
<circle cx="536.8" cy="162.0" r="2.5" fill="#0b8bff"/>
<circle cx="541.8" cy="164.0" r="2.5" fill="#0b8bff"/>
<circle cx="546.7" cy="166.1" r="2.5" fill="#0b8bff"/>
<circle cx="551.6" cy="157.8" r="2.5" fill="#0b8bff"/>
<circle cx="551.6" cy="164.0" r="2.5" fill="#0b8bff"/>
<circle cx="556.6" cy="155.8" r="2.5" fill="#0b8bff"/>
<circle cx="561.5" cy="157.8" r="2.5" fill="#0b8bff"/>
<circle cx="561.5" cy="159.9" r="2.5" fill="#0b8bff"/>
<circle cx="561.5" cy="166.1" r="2.5" fill="#0b8bff"/>
<circle cx="566.5" cy="168.1" r="2.5" fill="#0b8bff"/>
<circle cx="571.4" cy="172.2" r="2.5" fill="#0b8bff"/>
<circle cx="576.3" cy="153.7" r="2.5" fill="#0b8bff"/>
<circle cx="576.3" cy="157.8" r="2.5" fill="#0b8bff"/>
<circle cx="576.3" cy="162.0" r="2.5" fill="#0b8bff"/>
<circle cx="576.3" cy="168.1" r="2.5" fill="#0b8bff"/>
<circle cx="581.3" cy="159.9" r="2.5" fill="#0b8bff"/>
<circle cx="581.3" cy="166.1" r="2.5" fill="#0b8bff"/>
<circle cx="586.2" cy="162.0" r="2.5" fill="#0b8bff"/>
<circle cx="586.2" cy="170.2" r="2.5" fill="#0b8bff"/>
<circle cx="541.8" cy="174.3" r="2.5" fill="#0b8bff"/>
<circle cx="556.6" cy="174.3" r="2.5" fill="#0b8bff"/>
<circle cx="561.5" cy="174.3" r="2.5" fill="#0b8bff"/>
<circle cx="601.0" cy="153.7" r="2.5" fill="#0b8bff"/>
<circle cx="601.0" cy="157.8" r="2.5" fill="#0b8bff"/>
<circle cx="591.2" cy="157.8" r="2.5" fill="#0b8bff"/>
<circle cx="591.2" cy="166.1" r="2.5" fill="#0b8bff"/>
<circle cx="591.2" cy="168.1" r="2.5" fill="#0b8bff"/>
<circle cx="596.1" cy="164.0" r="2.5" fill="#0b8bff"/>
<circle cx="596.1" cy="168.1" r="2.5" fill="#0b8bff"/>
<circle cx="596.1" cy="170.2" r="2.5" fill="#0b8bff"/>
<circle cx="615.9" cy="151.7" r="2.5" fill="#0b8bff"/>
<circle cx="620.8" cy="155.8" r="2.5" fill="#0b8bff"/>
<circle cx="625.7" cy="157.8" r="2.5" fill="#0b8bff"/>
<circle cx="630.7" cy="151.7" r="2.5" fill="#0b8bff"/>
<circle cx="630.7" cy="155.8" r="2.5" fill="#0b8bff"/>
<circle cx="615.9" cy="162.0" r="2.5" fill="#0b8bff"/>
<circle cx="615.9" cy="166.1" r="2.5" fill="#0b8bff"/>
<circle cx="620.8" cy="164.0" r="2.5" fill="#0b8bff"/>
<circle cx="620.8" cy="168.1" r="2.5" fill="#0b8bff"/>
<circle cx="620.8" cy="170.2" r="2.5" fill="#0b8bff"/>
<circle cx="625.7" cy="166.1" r="2.5" fill="#0b8bff"/>
<circle cx="625.7" cy="168.1" r="2.5" fill="#0b8bff"/>
<circle cx="630.7" cy="162.0" r="2.5" fill="#0b8bff"/>
<circle cx="630.7" cy="166.1" r="2.5" fill="#0b8bff"/>
<circle cx="640.6" cy="159.9" r="2.5" fill="#0b8bff"/>
<circle cx="640.6" cy="168.1" r="2.5" fill="#0b8bff"/>
<circle cx="610.9" cy="170.2" r="2.5" fill="#0b8bff"/>
<circle cx="606.0" cy="174.3" r="2.5" fill="#0b8bff"/>
<circle cx="541.8" cy="186.6" r="2.5" fill="#0b8bff"/>
<circle cx="556.6" cy="176.3" r="2.5" fill="#0b8bff"/>
<circle cx="571.4" cy="178.4" r="2.5" fill="#0b8bff"/>
<circle cx="576.3" cy="182.5" r="2.5" fill="#0b8bff"/>
<circle cx="581.3" cy="168.1" r="2.5" fill="#0b8bff"/>
<circle cx="586.2" cy="182.5" r="2.5" fill="#0b8bff"/>
<circle cx="591.2" cy="174.3" r="2.5" fill="#0b8bff"/>
<circle cx="591.2" cy="176.3" r="2.5" fill="#0b8bff"/>
<circle cx="596.1" cy="184.6" r="2.5" fill="#0b8bff"/>
<circle cx="601.0" cy="176.3" r="2.5" fill="#0b8bff"/>
<circle cx="606.0" cy="176.3" r="2.5" fill="#0b8bff"/>
<circle cx="610.9" cy="174.3" r="2.5" fill="#0b8bff"/>
</g>
<path d="M53.4 156.2L281 118.7" stroke="#3fc83f" stroke-width="1.15" stroke-linecap="round"/>
<path d="M427.8 171.6L640.6 132.3" stroke="#1a7cff" stroke-width="1.15" stroke-linecap="round"/>
</svg>
</body></html>
